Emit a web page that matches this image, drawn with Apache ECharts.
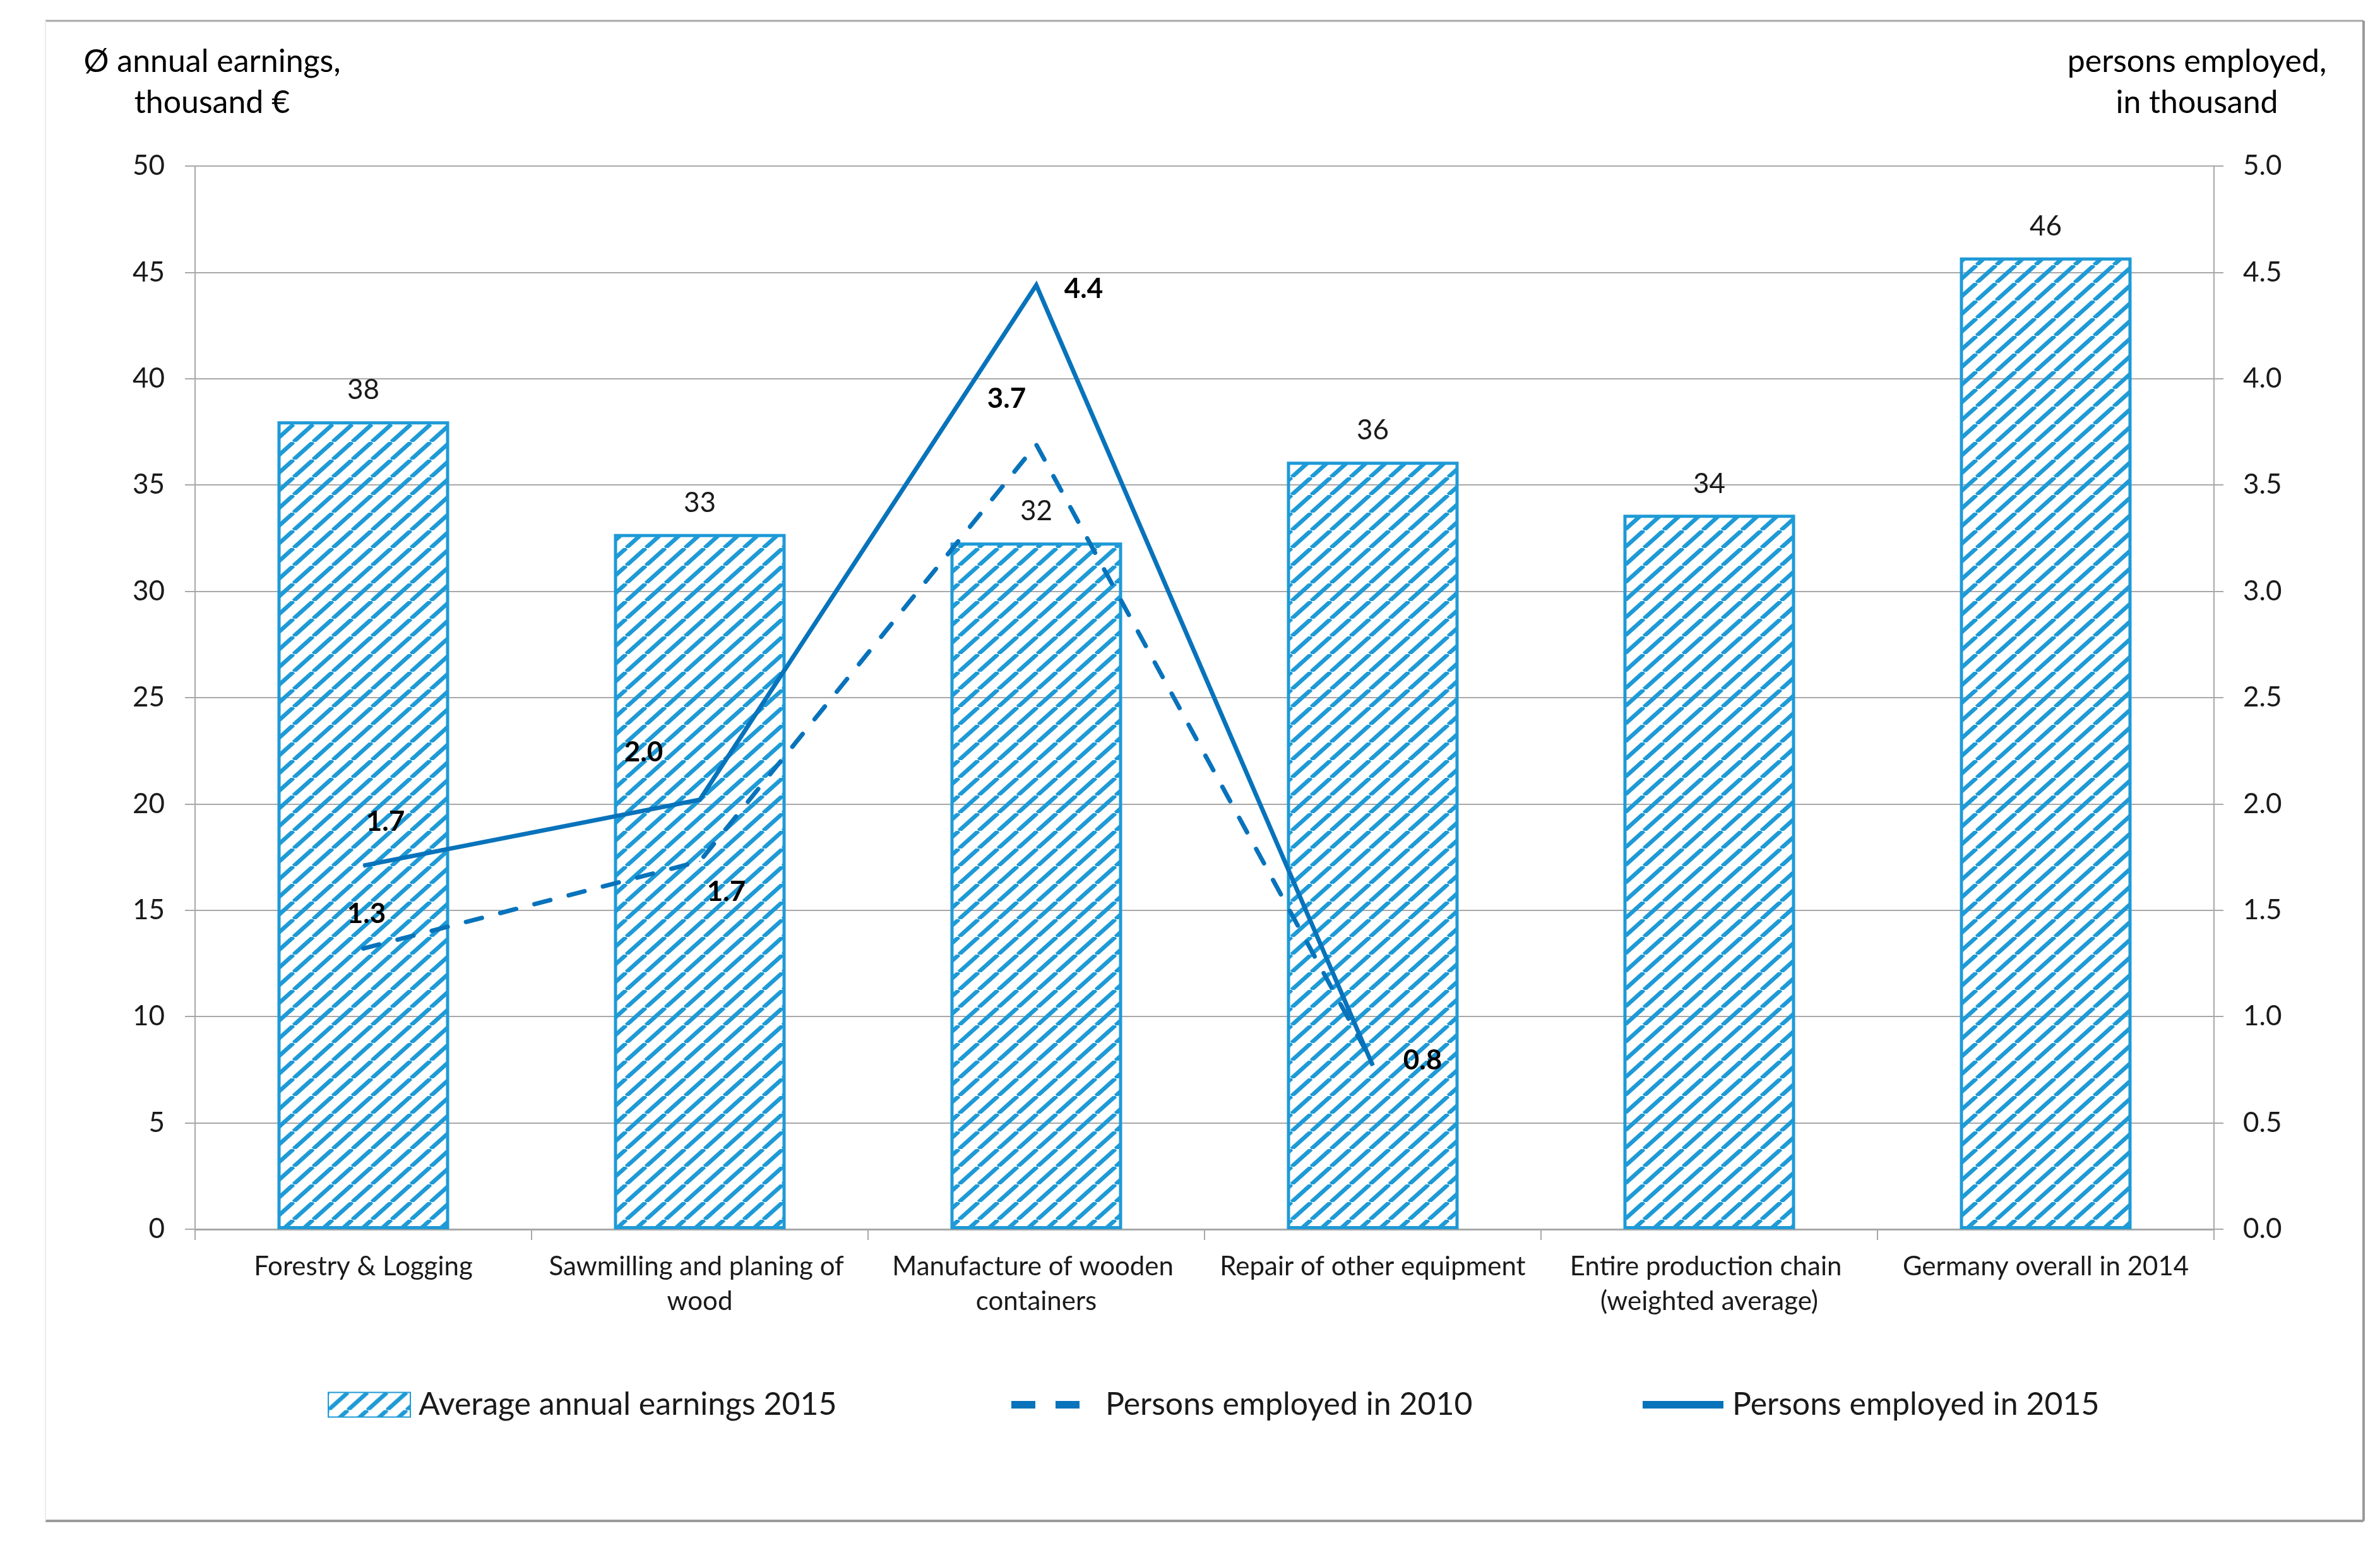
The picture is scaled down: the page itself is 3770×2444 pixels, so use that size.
<!DOCTYPE html>
<html>
<head>
<meta charset="utf-8">
<script src="https://cdn.jsdelivr.net/npm/echarts@6/dist/echarts.min.js"></script>
<style>
html,body{margin:0;padding:0;background:#fff;}
#chart{width:3770px;height:2444px;}
</style>
</head>
<body>
<div id="chart"></div>
<script>
// ---- data ----
const categories = [
  'Forestry & Logging',
  'Sawmilling and planing of wood',
  'Manufacture of wooden containers',
  'Repair of other equipment',
  'Entire production chain (weighted average)',
  'Germany overall in 2014'
];
const earnings2015 = [38.0, 32.7, 32.3, 36.1, 33.6, 45.7];
const employed2010 = [1.32, 1.73, 3.69, 0.78, null, null];
const employed2015 = [1.71, 2.02, 4.44, 0.77, null, null];
const leftTicks = { min: 0, max: 50, interval: 5 };
const rightTicks = { min: 0, max: 5, interval: 0.5 };
const seriesNames = ['Average annual earnings 2015', 'Persons employed in 2010', 'Persons employed in 2015'];

// ---- styling (label placement offsets, px) ----
const offsets2010 = [[5, -55], [42, 48], [-47, -72], null, null, null];
const offsets2015 = [[35, -69], [-89, -75], [75, 6], [79, -8], null, null];

const FONT = 'Lato, "Open Sans", "Noto Sans", sans-serif';
const HATCH = '#1e9ad6';
const LINE = '#0873bb';
const GRID = '#a8a8a8';
const TXT = '#1a1a1a';

// hatch pattern
const pc = document.createElement('canvas');
pc.width = 31; pc.height = 28;
const ctx = pc.getContext('2d');
ctx.strokeStyle = HATCH; ctx.lineWidth = 6.5;
for (const dx of [-31, 0, 31]) {
  ctx.beginPath(); ctx.moveTo(dx, 28); ctx.lineTo(dx + 31, 0); ctx.stroke();
}
const pattern = { image: pc, repeat: 'repeat' };

function lineData(vals, offs, showLabel) {
  return vals.map((v, i) => {
    if (v == null) return null;
    const o = offs[i];
    return {
      value: v,
      label: o ? { show: true, position: 'inside', offset: o } : { show: false }
    };
  });
}

const chart = echarts.init(document.getElementById('chart'), null, { renderer: 'canvas', devicePixelRatio: 1 });

const lineLabel = {
  show: true, color: '#000', fontFamily: FONT, fontSize: 44, fontWeight: 'bold',
  align: 'center', verticalAlign: 'middle',
  formatter: p => p.value == null ? '' : Number(p.value).toFixed(1)
};

const legendBase = {
  orient: 'horizontal', top: 2200, padding: 0,
  textStyle: { fontFamily: FONT, fontSize: 50, color: TXT }
};

chart.setOption({
  backgroundColor: '#fff',
  animation: false,
  grid: { left: 309, right: 263, top: 263, bottom: 497, containLabel: false },
  legend: [
    Object.assign({}, legendBase, {
      left: 519, data: [{ name: seriesNames[0], icon: 'rect' }],
      itemWidth: 130, itemHeight: 39,
      textStyle: Object.assign({}, legendBase.textStyle, { padding: [0, 0, 0, 8] })
    }),
    Object.assign({}, legendBase, {
      left: 1596, data: [{ name: seriesNames[1] }],
      itemWidth: 140, itemHeight: 39,
      itemStyle: { opacity: 0 },
      lineStyle: { color: LINE, width: 12, type: [38, 32], cap: 'butt' },
      textStyle: Object.assign({}, legendBase.textStyle, { padding: [0, 0, 0, 4] })
    }),
    Object.assign({}, legendBase, {
      left: 2596, data: [{ name: seriesNames[2] }],
      itemWidth: 128, itemHeight: 39,
      itemStyle: { opacity: 0 },
      lineStyle: { color: LINE, width: 12, type: 'solid', cap: 'butt' },
      textStyle: Object.assign({}, legendBase.textStyle, { padding: [0, 0, 0, 9] })
    })
  ],
  xAxis: {
    type: 'category', data: categories, boundaryGap: true,
    axisLine: { show: true, lineStyle: { color: GRID, width: 3 } },
    axisTick: { show: true, interval: 0, length: 17, lineStyle: { color: GRID, width: 2 } },
    axisLabel: {
      interval: 0, margin: 32, color: TXT, fontFamily: FONT, fontSize: 42,
      lineHeight: 55, width: 510, overflow: 'break', align: 'center'
    },
    splitLine: { show: false }
  },
  yAxis: [
    {
      type: 'value', min: leftTicks.min, max: leftTicks.max, interval: leftTicks.interval,
      position: 'left',
      axisLine: { show: true, lineStyle: { color: GRID, width: 2 } },
      axisTick: { show: true, length: 16, lineStyle: { color: GRID, width: 2 } },
      axisLabel: { margin: 48, color: TXT, fontFamily: FONT, fontSize: 44 },
      splitLine: { show: true, lineStyle: { color: GRID, width: 2 } }
    },
    {
      type: 'value', min: rightTicks.min, max: rightTicks.max, interval: rightTicks.interval,
      position: 'right',
      axisLine: { show: true, lineStyle: { color: GRID, width: 2 } },
      axisTick: { show: true, length: 15, lineStyle: { color: GRID, width: 2 } },
      axisLabel: { margin: 46, color: TXT, fontFamily: FONT, fontSize: 44, formatter: v => v.toFixed(1) },
      splitLine: { show: false }
    }
  ],
  series: [
    {
      name: seriesNames[0], type: 'bar', yAxisIndex: 0, data: earnings2015,
      barWidth: 272, z: 2,
      itemStyle: { color: pattern, borderColor: HATCH, borderWidth: 5 },
      label: {
        show: true, position: 'top', distance: 27, color: TXT,
        fontFamily: FONT, fontSize: 44, formatter: p => Math.round(p.value)
      }
    },
    {
      name: seriesNames[1], type: 'line', yAxisIndex: 1,
      data: lineData(employed2010, offsets2010),
      symbol: 'circle', symbolSize: 2, z: 5,
      itemStyle: { color: LINE },
      lineStyle: { color: LINE, width: 7, type: [26, 30], cap: 'round' },
      label: lineLabel
    },
    {
      name: seriesNames[2], type: 'line', yAxisIndex: 1,
      data: lineData(employed2015, offsets2015),
      symbol: 'circle', symbolSize: 2, z: 6,
      itemStyle: { color: LINE },
      lineStyle: { color: LINE, width: 7, type: 'solid', join: 'miter' },
      label: lineLabel
    }
  ],
  graphic: [
    { type: 'line', shape: { x1: 72, y1: 33, x2: 3744, y2: 33 }, style: { stroke: '#a8a8a8', lineWidth: 3 }, silent: true },
    { type: 'line', shape: { x1: 3744, y1: 33, x2: 3744, y2: 2409 }, style: { stroke: '#9a9a9a', lineWidth: 4 }, silent: true },
    { type: 'line', shape: { x1: 72, y1: 2409, x2: 3744, y2: 2409 }, style: { stroke: '#9a9a9a', lineWidth: 4 }, silent: true },
    { type: 'line', shape: { x1: 72, y1: 33, x2: 72, y2: 2409 }, style: { stroke: '#ececec', lineWidth: 2 }, silent: true },
    {
      type: 'text', left: null, x: 336, y: 130,
      style: {
        text: 'Ø annual earnings,\nthousand €', x: 0, y: 0,
        fill: '#000', font: '50px ' + FONT, textAlign: 'center', textVerticalAlign: 'middle', lineHeight: 65
      }
    },
    {
      type: 'text', x: 3480, y: 130,
      style: {
        text: 'persons employed,\nin thousand', x: 0, y: 0,
        fill: '#000', font: '50px ' + FONT, textAlign: 'center', textVerticalAlign: 'middle', lineHeight: 65
      }
    }
  ]
});
</script>
</body>
</html>
